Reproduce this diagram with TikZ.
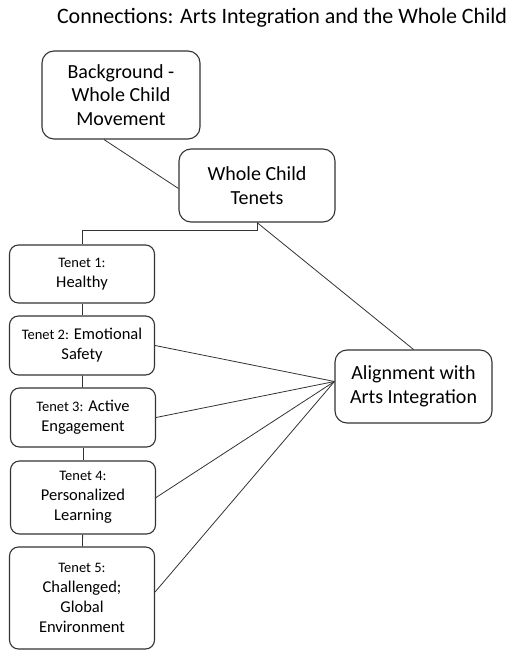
\documentclass[tikz,border=0pt]{standalone}
\usepackage{fontspec}
\setmainfont{Carlito}
\newcommand{\tenetno}[1]{{\fontsize{14.5}{20}\selectfont #1}}
\tikzset{
        bigbox/.style={draw=black!80, line width=1.1pt, rounded corners=12pt, align=center, inner sep=0pt,
          minimum width=157pt, minimum height=73pt, font=\fontsize{20}{23.5}\selectfont},
        tenetbox/.style={draw=black!80, line width=1.1pt, rounded corners=9pt, align=center, inner sep=0pt,
          minimum width=145pt, font=\fontsize{16.5}{20}\selectfont},
        link/.style={draw=black!80, line width=0.8pt},
        heading/.style={font=\fontsize{22}{26}\selectfont, inner sep=0pt}
          }
\begin{document}
\begin{tikzpicture}[x=1pt, y=-1pt]
            \useasboundingbox (0,0) rectangle (520,660);
            \node[heading] (title) at (282,18) {Connections: Arts Integration and the Whole Child};
            \node[bigbox, minimum width=158pt, minimum height=88pt] (bg) at (121,95) {Background -\\Whole Child\\Movement};
            \node[bigbox, minimum width=156pt] (wct) at (257,185.5) {Whole Child\\Tenets};
            \node[bigbox] (align) at (413.5,386.5) {Alignment with\\Arts Integration};
            \node[tenetbox, minimum height=58pt] (t1) at (82,274) {\tenetno{Tenet 1:}\\Healthy};
            \node[tenetbox, minimum height=59pt] (t2) at (82,345.5) {\tenetno{Tenet 2:} Emotional\\Safety};
            \node[tenetbox, minimum height=59pt] (t3) at (83,417.5) {\tenetno{Tenet 3:} Active\\Engagement};
            \node[tenetbox, minimum height=73pt] (t4) at (83,497.5) {\tenetno{Tenet 4:}\\Personalized\\Learning};
            \node[tenetbox, minimum height=102pt] (t5) at (82,598) {\tenetno{Tenet 5:}\\Challenged;\\Global\\Environment};
            \coordinate (hub) at ([yshift=5pt]align.west);
            % upper links
            \draw[link] ([xshift=-17pt]bg.south) -- ([yshift=-3pt]wct.west);
            \draw[link] (wct.south) -- ++(0,8) -| (t1.north);
            \draw[link] (wct.south) -- (align.north);
            % tenet chain
            \draw[link] (t1) -- (t2);
            \draw[link] (t2) -- (t3);
            \draw[link] (t3) -- (t4);
            \draw[link] (t4) -- (t5);
            % to alignment
            \draw[link] (t2.east) -- (hub);
            \draw[link] (t3.east) -- (hub);
            \draw[link] (t4.east) -- (hub);
            \draw[link] ([yshift=6pt]t5.east) -- (hub);
          \end{tikzpicture}
\end{document}
